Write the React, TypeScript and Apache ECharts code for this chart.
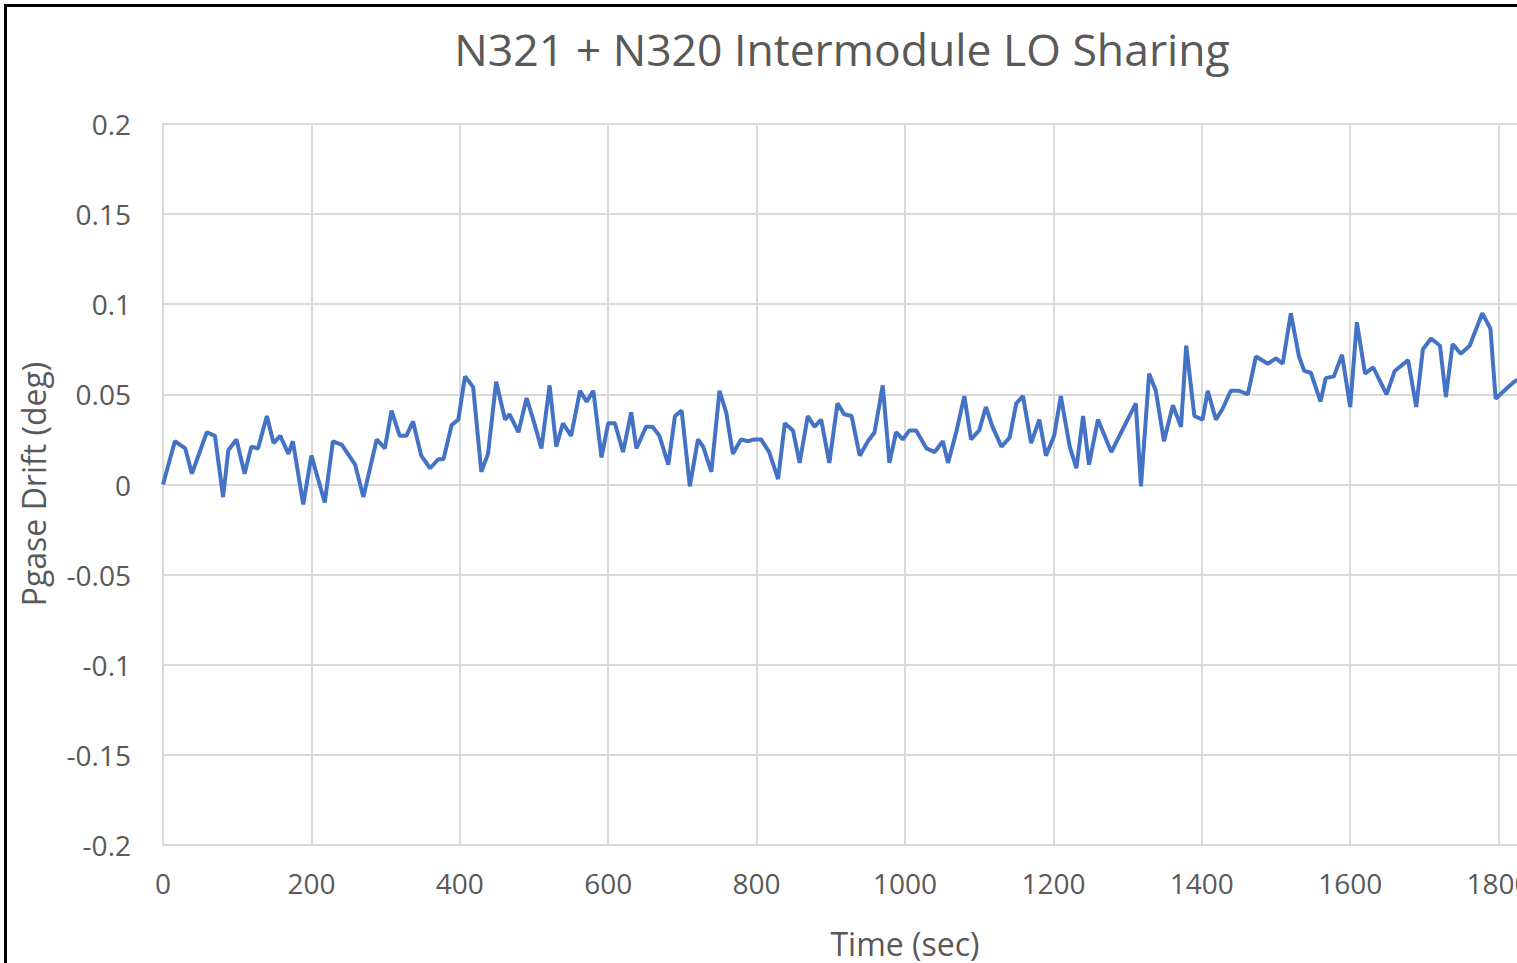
import React, { useEffect, useRef } from "react";
import * as echarts from "echarts";

const TITLE = "N321 + N320 Intermodule LO Sharing";
const X_NAME = "Time (sec)";
const Y_NAME = "Pgase Drift (deg)";

const timeSec: number[] = [
  0, 16, 30, 39, 59, 70, 81, 88, 99, 110, 119, 128, 140, 149, 158, 169, 175, 189, 200, 218,
  229, 241, 259, 270, 288, 299, 308, 319, 328, 337, 348, 360, 371, 378, 389, 398, 407, 418, 429, 438,
  449, 461, 467, 479, 490, 499, 510, 521, 530, 539, 550, 562, 571, 580, 591, 600, 609, 620, 631, 638,
  651, 660, 669, 681, 690, 699, 710, 721, 728, 739, 750, 759, 768, 779, 788, 797, 806, 817, 829, 838,
  849, 858, 869, 878, 887, 898, 909, 918, 928, 939, 950, 959, 970, 979, 988, 997, 1006, 1015, 1029, 1040,
  1051, 1058, 1069, 1080, 1089, 1100, 1109, 1118, 1130, 1141, 1150, 1159, 1170, 1181, 1190, 1201, 1210, 1222, 1231, 1240,
  1248, 1260, 1278, 1311, 1318, 1329, 1338, 1349, 1361, 1372, 1379, 1390, 1401, 1408, 1419, 1428, 1439, 1450, 1462, 1473,
  1489, 1500, 1509, 1520, 1531, 1538, 1547, 1560, 1567, 1578, 1589, 1600, 1609, 1620, 1631, 1649, 1660, 1678, 1689, 1698,
  1709, 1721, 1729, 1738, 1749, 1761, 1778, 1789, 1796, 1810, 1821, 1830,
];

const driftDeg: number[] = [
  0, 0.024, 0.02, 0.006, 0.029, 0.027, -0.007, 0.019, 0.025, 0.006, 0.021, 0.02, 0.038, 0.023, 0.027, 0.017, 0.024, -0.011, 0.016, -0.01,
  0.024, 0.022, 0.011, -0.007, 0.025, 0.02, 0.041, 0.027, 0.027, 0.035, 0.016, 0.009, 0.014, 0.014, 0.033, 0.036, 0.06, 0.054, 0.007, 0.017,
  0.057, 0.036, 0.039, 0.029, 0.048, 0.036, 0.02, 0.055, 0.021, 0.034, 0.027, 0.052, 0.046, 0.052, 0.015, 0.034, 0.034, 0.018, 0.04, 0.02,
  0.032, 0.032, 0.027, 0.011, 0.038, 0.041, -0.001, 0.025, 0.021, 0.007, 0.052, 0.04, 0.017, 0.025, 0.024, 0.025, 0.025, 0.018, 0.003, 0.034,
  0.03, 0.012, 0.038, 0.032, 0.036, 0.012, 0.045, 0.039, 0.038, 0.016, 0.024, 0.029, 0.055, 0.012, 0.029, 0.025, 0.03, 0.03, 0.02, 0.018,
  0.024, 0.012, 0.029, 0.049, 0.025, 0.03, 0.043, 0.032, 0.021, 0.026, 0.045, 0.049, 0.023, 0.036, 0.016, 0.027, 0.049, 0.021, 0.009, 0.038,
  0.011, 0.036, 0.018, 0.045, -0.001, 0.0615, 0.052, 0.024, 0.044, 0.032, 0.077, 0.038, 0.036, 0.052, 0.036, 0.042, 0.052, 0.052, 0.05, 0.071,
  0.067, 0.07, 0.067, 0.095, 0.071, 0.063, 0.062, 0.046, 0.059, 0.06, 0.072, 0.043, 0.09, 0.0615, 0.065, 0.05, 0.063, 0.069, 0.043, 0.075,
  0.081, 0.077, 0.0485, 0.078, 0.0725, 0.077, 0.095, 0.0865, 0.0475, 0.053, 0.057, 0.059,
];

const X_MIN = 0;
const X_MAX = 2000;
const X_STEP = 200;
const Y_MIN = -0.2;
const Y_MAX = 0.2;
const Y_STEP = 0.05;

export default function App() {
  const ref = useRef<HTMLDivElement>(null);

  useEffect(() => {
    if (!ref.current) return;
    const chart = echarts.init(ref.current, null, { renderer: "svg" });
    const text = "#595959";
    const grid = "#d9d9d9";
    const font = "'Open Sans', sans-serif";
    const data = timeSec.map((t, i) => [t, driftDeg[i]]);
    chart.setOption({
      animation: false,
      backgroundColor: "#ffffff",
      grid: { left: 163, top: 124, width: 1484, height: 721 },
      xAxis: {
        type: "value",
        min: X_MIN,
        max: X_MAX,
        interval: X_STEP,
        axisLine: { show: true, lineStyle: { color: grid, width: 2 } },
        axisTick: { show: false },
        splitLine: { show: true, lineStyle: { color: grid, width: 2 } },
        axisLabel: {
          color: text,
          fontSize: 28,
          fontFamily: font,
          margin: 24,
          formatter: (v: number) => String(v),
        },
      },
      yAxis: {
        type: "value",
        min: Y_MIN,
        max: Y_MAX,
        interval: Y_STEP,
        axisLine: { show: true, lineStyle: { color: grid, width: 2 } },
        axisTick: { show: false },
        splitLine: { show: true, lineStyle: { color: grid, width: 2 } },
        axisLabel: {
          color: text,
          fontSize: 28,
          fontFamily: font,
          margin: 32,
          formatter: (v: number) => String(Math.round(v * 100) / 100),
        },
      },
      series: [
        {
          type: "line",
          data,
          showSymbol: false,
          symbol: "none",
          lineStyle: { color: "#4472c4", width: 4 },
          clip: true,
        },
      ],
      graphic: [
        {
          type: "text",
          x: 842,
          y: 48,
          style: {
            text: TITLE,
            fill: text,
            fontSize: 44.5,
            fontFamily: font,
            textAlign: "center",
            textVerticalAlign: "middle",
          },
        },
        {
          type: "text",
          x: 905,
          y: 943,
          style: {
            text: X_NAME,
            fill: text,
            fontSize: 32,
            fontFamily: font,
            textAlign: "center",
            textVerticalAlign: "middle",
          },
        },
        {
          type: "text",
          x: 33,
          y: 484,
          rotation: Math.PI / 2,
          style: {
            text: Y_NAME,
            fill: text,
            fontSize: 32,
            fontFamily: font,
            textAlign: "center",
            textVerticalAlign: "middle",
          },
        },
      ],
    });
    return () => chart.dispose();
  }, []);

  return (
    <div
      style={{
        position: "fixed",
        left: 0,
        top: 0,
        width: 1517,
        height: 963,
        overflow: "hidden",
        background: "#ffffff",
      }}
    >
      <div ref={ref} style={{ position: "absolute", left: 0, top: 0, width: 1700, height: 963 }} />
      <div
        style={{
          position: "absolute",
          left: 4,
          top: 4,
          width: 1600,
          height: 1000,
          borderLeft: "3px solid #000",
          borderTop: "3px solid #000",
          pointerEvents: "none",
        }}
      />
    </div>
  );
}
